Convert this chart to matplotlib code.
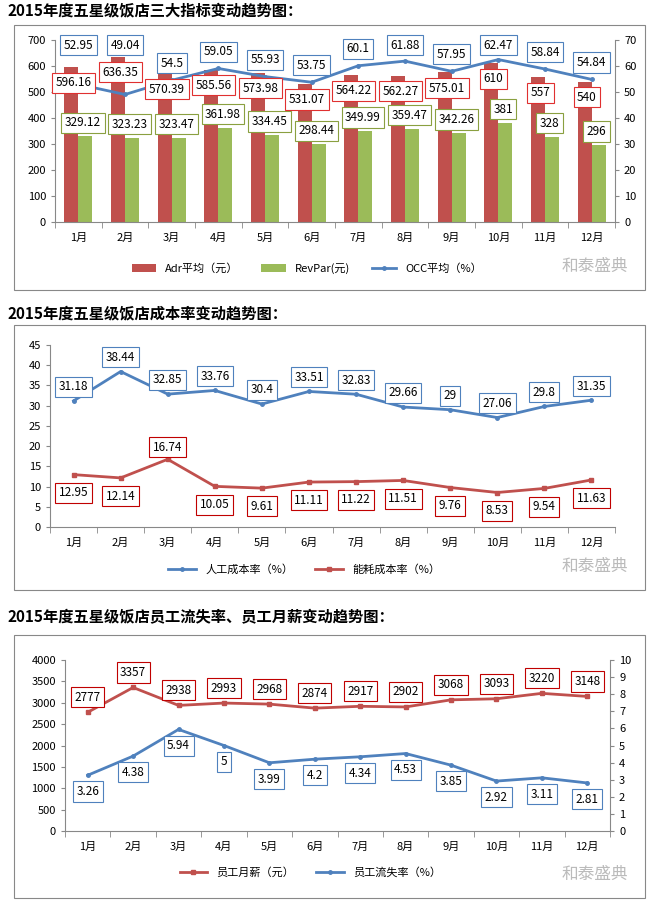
import matplotlib
matplotlib.use("Agg")
import matplotlib.pyplot as plt
import numpy as np
from matplotlib.patches import Rectangle

plt.rcParams["font.family"] = ["Noto Sans CJK SC", "DejaVu Sans"]
plt.rcParams["axes.unicode_minus"] = False

months = [f"{i}月" for i in range(1, 13)]
adr = [596.16, 636.35, 570.39, 585.56, 573.98, 531.07, 564.22, 562.27, 575.01, 610, 557, 540]
revpar = [329.12, 323.23, 323.47, 361.98, 334.45, 298.44, 349.99, 359.47, 342.26, 381, 328, 296]
occ = [52.95, 49.04, 54.5, 59.05, 55.93, 53.75, 60.1, 61.88, 57.95, 62.47, 58.84, 54.84]
labor = [31.18, 38.44, 32.85, 33.76, 30.4, 33.51, 32.83, 29.66, 29, 27.06, 29.8, 31.35]
energy = [12.95, 12.14, 16.74, 10.05, 9.61, 11.11, 11.22, 11.51, 9.76, 8.53, 9.54, 11.63]
salary = [2777, 3357, 2938, 2993, 2968, 2874, 2917, 2902, 3068, 3093, 3220, 3148]
turnover = [3.26, 4.38, 5.94, 5, 3.99, 4.2, 4.34, 4.53, 3.85, 2.92, 3.11, 2.81]

RED = "#c0504d"
GREEN = "#9bbb59"
BLUE = "#4f81bd"
W, H = 654, 906
fig = plt.figure(figsize=(W / 100, H / 100), dpi=100)


def px_axes(x0, y0, x1, y1):
    return fig.add_axes([x0 / W, 1 - y1 / H, (x1 - x0) / W, (y1 - y0) / H])


def frame(y0, y1, title, ty):
    fig.patches.append(Rectangle((14 / W, 1 - y1 / H), 631 / W, (y1 - y0) / H,
                                 transform=fig.transFigure, fill=False,
                                 edgecolor="#888888", linewidth=0.8))
    fig.text(8 / W, 1 - ty / H, title, fontsize=11, fontweight="bold",
             va="center", ha="left")
    fig.text(595 / W, 1 - (y1 - 24) / H, "和泰盛典", fontsize=12, color="#bbbbbb",
             ha="center", va="center")


def style(ax):
    for s in ["top", "right"]:
        ax.spines[s].set_visible(False)
    for s in ax.spines.values():
        s.set_color("#888888")
    ax.tick_params(labelsize=8, length=3, color="#888888")
    ax.set_xlim(-0.5, 11.5)
    ax.set_xticks(np.arange(12))
    ax.set_xticklabels(months)
    ax.set_xticks(np.arange(-0.5, 12, 1), minor=True)
    ax.tick_params(axis="x", which="major", length=0, pad=8)
    ax.tick_params(axis="x", which="minor", length=4, color="#888888")


def lab(ax, x, y, s, ec):
    ax.text(x, y, s, ha="center", va="center", fontsize=8.5, zorder=6,
            bbox=dict(boxstyle="square,pad=0.3", fc="white", ec=ec, lw=0.8))


x = np.arange(12)

# chart 1
frame(25, 290, "2015年度五星级饭店三大指标变动趋势图：", 10)
ax = px_axes(55, 40, 615, 222)
style(ax)
ax.bar(x - 0.15, adr, 0.3, color=RED, label="Adr平均（元）", zorder=2)
ax.bar(x + 0.15, revpar, 0.3, color=GREEN, label="RevPar(元)", zorder=2)
ax.set_ylim(0, 700)
ax.set_yticks(range(0, 701, 100))
ax2 = ax.twinx()
ax2.plot(x, occ, color=BLUE, lw=2, marker="o", ms=2.5, label="OCC平均（%）")
ax2.set_ylim(0, 70)
ax2.set_yticks(range(0, 71, 10))
ax2.tick_params(labelsize=8, length=3, color="#888888")
for s in ["top", "left", "bottom"]:
    ax2.spines[s].set_visible(False)
ax2.spines["right"].set_color("#888888")
for i in range(12):
    ax2.text(x[i] - 0.1, adr[i] / 10 - 6, f"{adr[i]:g}", ha="center", va="center", fontsize=8.5,
             zorder=6, bbox=dict(boxstyle="square,pad=0.3", fc="white", ec="#e03030", lw=0.8))
    ax2.text(x[i] + 0.1, revpar[i] / 10 + 5.2, f"{revpar[i]:g}", ha="center", va="center",
             fontsize=8.5, zorder=6,
             bbox=dict(boxstyle="square,pad=0.3", fc="white", ec="#8aa040", lw=0.8))
    oy = 68 if i < 2 else min(occ[i] + 6.5, 68)
    lab(ax2, x[i], oy, f"{occ[i]:g}", BLUE)
h1, l1 = ax.get_legend_handles_labels()
h2, l2 = ax2.get_legend_handles_labels()
ax.legend(h1 + h2, l1 + l2, loc="upper center", bbox_to_anchor=(0.45, -0.17), ncol=3,
          frameon=False, fontsize=8, handlelength=2.2)

# chart 2
frame(325, 590, "2015年度五星级饭店成本率变动趋势图：", 313)
ax = px_axes(50, 345, 615, 527)
style(ax)
ax.plot(x, labor, color=BLUE, lw=2, marker="o", ms=2.5, label="人工成本率（%）")
ax.plot(x, energy, color=RED, lw=2, marker="s", ms=2.5, label="能耗成本率（%）")
ax.set_ylim(0, 45)
ax.set_yticks(range(0, 46, 5))
for i in range(12):
    lab(ax, x[i], labor[i] + 3.5, f"{labor[i]:g}", BLUE)
    off = 3 if i == 2 else -4.5
    lab(ax, x[i], energy[i] + off, f"{energy[i]:g}", "#c00000")
ax.legend(loc="upper center", bbox_to_anchor=(0.45, -0.15), ncol=2, frameon=False,
          fontsize=8, handlelength=2.5)

# chart 3
frame(635, 898, "2015年度五星级饭店员工流失率、员工月薪变动趋势图：", 617)
ax = px_axes(65, 660, 610, 831)
style(ax)
ax.plot(x, salary, color=RED, lw=2, marker="s", ms=2.5, label="员工月薪（元）")
ax.set_ylim(0, 4000)
ax.set_yticks(range(0, 4001, 500))
ax2 = ax.twinx()
ax2.plot(x, turnover, color=BLUE, lw=2, marker="o", ms=2.5, label="员工流失率（%）")
ax2.set_ylim(0, 10)
ax2.set_yticks(range(0, 11))
ax2.tick_params(labelsize=8, length=3, color="#888888")
for s in ["top", "left", "bottom"]:
    ax2.spines[s].set_visible(False)
ax2.spines["right"].set_color("#888888")
for i in range(12):
    lab(ax, x[i], salary[i] + 350, f"{salary[i]:g}", "#c00000")
    lab(ax2, x[i], turnover[i] - 0.95, f"{turnover[i]:g}", BLUE)
h1, l1 = ax.get_legend_handles_labels()
h2, l2 = ax2.get_legend_handles_labels()
ax.legend(h1 + h2, l1 + l2, loc="upper center", bbox_to_anchor=(0.45, -0.15), ncol=2,
          frameon=False, fontsize=8, handlelength=2.5)

fig.savefig("out.png", dpi=100, facecolor="white")
